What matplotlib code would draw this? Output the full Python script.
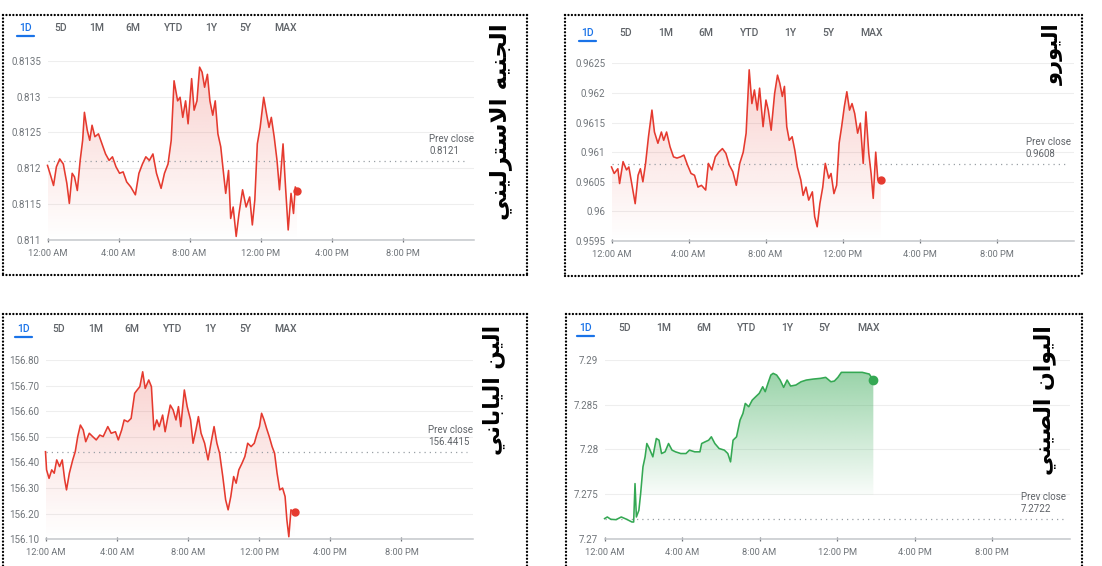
import numpy as np
import matplotlib
matplotlib.use('Agg')
import matplotlib.pyplot as plt
from matplotlib.lines import Line2D
from matplotlib.patches import Polygon
import matplotlib.colors as mcolors

# ---------------- data ----------------
TABS = ['1D', '5D', '1M', '6M', 'YTD', '1Y', '5Y', 'MAX']
TIME_TICKS = [0, 4, 8, 12, 16, 20]
TIME_LABELS = ['12:00 AM', '4:00 AM', '8:00 AM', '12:00 PM', '4:00 PM', '8:00 PM']

gbp_title = 'الجنيه الاسترليني'
gbp_prev = 0.8121
gbp_prev_label = '0.8121'
gbp_yticks = [0.811, 0.8115, 0.812, 0.8125, 0.813, 0.8135]
gbp_ylabels = ['0.811', '0.8115', '0.812', '0.8125', '0.813', '0.8135']
gbp_hours = [0.00, 0.20, 0.34, 0.50, 0.69, 0.89, 1.09, 1.23, 1.39, 1.52, 1.68, 1.84, 1.98, 2.08, 2.24,
             2.38, 2.51, 2.67, 2.87, 3.07, 3.27, 3.47, 3.66, 3.86, 4.06, 4.26, 4.46, 4.69, 4.95, 5.15,
             5.35, 5.54, 5.74, 5.94, 6.14, 6.40, 6.59, 6.79, 6.97, 7.13, 7.33, 7.47, 7.62, 7.78, 7.92,
             8.12, 8.26, 8.42, 8.57, 8.71, 8.85, 9.01, 9.15, 9.31, 9.45, 9.60, 9.76, 9.90, 10.04, 10.20,
             10.32, 10.46, 10.63, 10.79, 10.99, 11.19, 11.39, 11.54, 11.68, 11.82, 11.98, 12.18, 12.34,
             12.48, 12.61, 12.77, 12.93, 13.07, 13.27, 13.41, 13.56, 13.72, 13.86, 13.96, 14.06]
gbp_values = [0.81204, 0.81188, 0.81176, 0.81202, 0.81213, 0.81206, 0.81179, 0.81151, 0.81193, 0.81188,
              0.81169, 0.81211, 0.81239, 0.81278, 0.81253, 0.81239, 0.81260, 0.81244, 0.81248, 0.81234,
              0.81220, 0.81211, 0.81216, 0.81202, 0.81193, 0.81195, 0.81181, 0.81174, 0.81163, 0.81193,
              0.81206, 0.81216, 0.81211, 0.81220, 0.81193, 0.81172, 0.81193, 0.81206, 0.81239, 0.81322,
              0.81294, 0.81299, 0.81271, 0.81294, 0.81262, 0.81325, 0.81281, 0.81294, 0.81341, 0.81334,
              0.81313, 0.81331, 0.81294, 0.81274, 0.81294, 0.81248, 0.81230, 0.81197, 0.81165, 0.81197,
              0.81130, 0.81146, 0.81105, 0.81137, 0.81170, 0.81146, 0.81160, 0.81121, 0.81156, 0.81234,
              0.81257, 0.81299, 0.81276, 0.81257, 0.81271, 0.81244, 0.81211, 0.81170, 0.81234, 0.81174,
              0.81114, 0.81165, 0.81137, 0.81174, 0.81169]

eur_title = 'اليورو'
eur_prev = 0.9608
eur_prev_label = '0.9608'
eur_yticks = [0.9595, 0.96, 0.9605, 0.961, 0.9615, 0.962, 0.9625]
eur_ylabels = ['0.9595', '0.96', '0.9605', '0.961', '0.9615', '0.962', '0.9625']
eur_hours = [0.00, 0.14, 0.33, 0.42, 0.60, 0.78, 0.90, 1.05, 1.23, 1.38, 1.50, 1.63, 1.77, 1.92, 2.10,
             2.23, 2.41, 2.59, 2.71, 2.86, 3.04, 3.22, 3.40, 3.58, 3.76, 3.95, 4.13, 4.31, 4.49, 4.67,
             4.89, 5.03, 5.21, 5.39, 5.57, 5.76, 5.94, 6.12, 6.30, 6.48, 6.66, 6.84, 6.99, 7.15, 7.29,
             7.42, 7.57, 7.69, 7.87, 8.02, 8.14, 8.29, 8.47, 8.62, 8.74, 8.87, 8.98, 9.10, 9.23, 9.38,
             9.52, 9.65, 9.83, 9.95, 10.10, 10.24, 10.43, 10.55, 10.68, 10.82, 10.97, 11.10, 11.28,
             11.40, 11.55, 11.69, 11.82, 11.95, 12.09, 12.22, 12.36, 12.49, 12.63, 12.78, 12.92, 13.07,
             13.21, 13.36, 13.48, 13.59, 13.72, 13.83, 13.99]
eur_values = [0.96075, 0.96064, 0.96072, 0.96047, 0.96084, 0.96070, 0.96075, 0.96047, 0.96013, 0.96061,
              0.96072, 0.96050, 0.96081, 0.96126, 0.96171, 0.96134, 0.96115, 0.96134, 0.96120, 0.96134,
              0.96109, 0.96092, 0.96090, 0.96092, 0.96095, 0.96078, 0.96064, 0.96061, 0.96041, 0.96044,
              0.96036, 0.96081, 0.96070, 0.96092, 0.96100, 0.96106, 0.96098, 0.96078, 0.96067, 0.96044,
              0.96081, 0.96100, 0.96132, 0.96239, 0.96182, 0.96205, 0.96171, 0.96208, 0.96143, 0.96188,
              0.96171, 0.96137, 0.96199, 0.96230, 0.96216, 0.96194, 0.96211, 0.96143, 0.96120, 0.96126,
              0.96103, 0.96075, 0.96053, 0.96027, 0.96041, 0.96019, 0.96033, 0.95991, 0.95974, 0.96013,
              0.96041, 0.96081, 0.96056, 0.96064, 0.96030, 0.96044, 0.96115, 0.96143, 0.96177, 0.96202,
              0.96171, 0.96182, 0.96165, 0.96132, 0.96149, 0.96081, 0.96168, 0.96098, 0.96064, 0.96022,
              0.96100, 0.96053, 0.96053]

jpy_title = 'الين الياباني'
jpy_prev = 156.4415
jpy_prev_label = '156.4415'
jpy_yticks = [156.1, 156.2, 156.3, 156.4, 156.5, 156.6, 156.7, 156.8]
jpy_ylabels = ['156.10', '156.20', '156.30', '156.40', '156.50', '156.60', '156.70', '156.80']
jpy_hours = [0.00, 0.06, 0.20, 0.35, 0.49, 0.63, 0.79, 0.94, 1.08, 1.18, 1.34, 1.53, 1.67, 1.81, 1.96,
             2.12, 2.26, 2.46, 2.65, 2.85, 3.05, 3.24, 3.50, 3.69, 3.93, 4.09, 4.28, 4.42, 4.62, 4.81,
             5.01, 5.15, 5.30, 5.46, 5.60, 5.80, 5.95, 6.09, 6.25, 6.39, 6.58, 6.72, 6.88, 7.01, 7.17,
             7.33, 7.47, 7.60, 7.80, 7.96, 8.15, 8.29, 8.45, 8.59, 8.74, 8.94, 9.13, 9.33, 9.47, 9.63,
             9.78, 9.96, 10.12, 10.26, 10.41, 10.57, 10.71, 10.86, 11.04, 11.20, 11.36, 11.55, 11.73,
             11.89, 12.02, 12.14, 12.28, 12.42, 12.57, 12.73, 12.87, 13.01, 13.16, 13.32, 13.46, 13.56,
             13.67, 13.79, 13.91, 14.01]
jpy_values = [156.442, 156.371, 156.338, 156.371, 156.358, 156.410, 156.384, 156.410, 156.332, 156.293,
              156.358, 156.410, 156.442, 156.501, 156.546, 156.527, 156.481, 156.514, 156.501, 156.488,
              156.507, 156.501, 156.540, 156.514, 156.520, 156.488, 156.527, 156.566, 156.559, 156.572,
              156.670, 156.683, 156.696, 156.754, 156.689, 156.722, 156.696, 156.527, 156.566, 156.540,
              156.585, 156.520, 156.579, 156.624, 156.605, 156.566, 156.618, 156.540, 156.683, 156.618,
              156.566, 156.475, 156.527, 156.579, 156.514, 156.475, 156.410, 156.488, 156.540, 156.475,
              156.436, 156.345, 156.254, 156.215, 156.267, 156.345, 156.319, 156.371, 156.397, 156.423,
              156.475, 156.462, 156.475, 156.514, 156.540, 156.592, 156.566, 156.533, 156.501, 156.462,
              156.436, 156.358, 156.293, 156.300, 156.267, 156.176, 156.110, 156.215, 156.208, 156.208]

cny_title = 'اليوان الصيني'
cny_prev = 7.2722
cny_prev_label = '7.2722'
cny_yticks = [7.27, 7.275, 7.28, 7.285, 7.29]
cny_ylabels = ['7.27', '7.275', '7.28', '7.285', '7.29']
cny_hours = [0.00, 0.14, 0.32, 0.59, 0.86, 1.14, 1.41, 1.50, 1.57, 1.64, 1.77, 1.86, 1.98, 2.09, 2.18,
             2.31, 2.49, 2.67, 2.81, 2.94, 3.12, 3.30, 3.48, 3.66, 3.93, 4.20, 4.38, 4.65, 4.92, 5.01,
             5.19, 5.37, 5.51, 5.69, 5.91, 6.18, 6.36, 6.50, 6.63, 6.81, 6.99, 7.14, 7.26, 7.44, 7.62,
             7.80, 7.98, 8.16, 8.29, 8.43, 8.58, 8.70, 8.88, 9.06, 9.24, 9.42, 9.60, 9.87, 10.14, 10.41,
             10.77, 11.14, 11.41, 11.68, 11.86, 12.04, 12.22, 12.58, 12.94, 13.30, 13.66, 13.87]
cny_values = [7.27228, 7.27246, 7.27220, 7.27216, 7.27246, 7.27220, 7.27190, 7.27190, 7.27619, 7.27246,
              7.27321, 7.27507, 7.27806, 7.27918, 7.28067, 7.28011, 7.27918, 7.28123, 7.28104, 7.27955,
              7.27974, 7.28067, 7.27993, 7.27974, 7.27955, 7.27955, 7.27993, 7.27974, 7.27974, 7.28067,
              7.28086, 7.28104, 7.28142, 7.28067, 7.28011, 7.27993, 7.27955, 7.27862, 7.28104, 7.28142,
              7.28328, 7.28403, 7.28515, 7.28478, 7.28552, 7.28590, 7.28627, 7.28701, 7.28646, 7.28739,
              7.28832, 7.28851, 7.28832, 7.28776, 7.28694, 7.28776, 7.28709, 7.28720, 7.28757, 7.28776,
              7.28787, 7.28795, 7.28806, 7.28757, 7.28765, 7.28806, 7.28862, 7.28862, 7.28862, 7.28862,
              7.28843, 7.28776]

# ---------------- styling / layout ----------------
W, H = 1102, 566
RED = '#e53a2f'
GREEN = '#34a853'
GREY_TXT = '#70757a'
TAB_TXT = '#5f6368'
BLUE = '#1a73e8'

plt.rcParams['font.family'] = ['Roboto', 'DejaVu Sans']

fig = plt.figure(figsize=(W / 100, H / 100), dpi=100)
fig.patch.set_facecolor('white')


def fx(x):
    return x / W


def fy(y):
    return 1 - y / H


# ---- minimal Arabic shaping (presentation forms) so the text renders joined ----
FORMS = {
    '\u0627': ('\uFE8D', '\uFE8E', None, None),
    '\u0628': ('\uFE8F', '\uFE90', '\uFE91', '\uFE92'),
    '\u062A': ('\uFE95', '\uFE96', '\uFE97', '\uFE98'),
    '\u062C': ('\uFE9D', '\uFE9E', '\uFE9F', '\uFEA0'),
    '\u0631': ('\uFEAD', '\uFEAE', None, None),
    '\u0633': ('\uFEB1', '\uFEB2', '\uFEB3', '\uFEB4'),
    '\u0635': ('\uFEB9', '\uFEBA', '\uFEBB', '\uFEBC'),
    '\u0644': ('\uFEDD', '\uFEDE', '\uFEDF', '\uFEE0'),
    '\u0646': ('\uFEE5', '\uFEE6', '\uFEE7', '\uFEE8'),
    '\u0647': ('\uFEE9', '\uFEEA', '\uFEEB', '\uFEEC'),
    '\u0648': ('\uFEED', '\uFEEE', None, None),
    '\u064A': ('\uFEF1', '\uFEF2', '\uFEF3', '\uFEF4'),
}
LAM, ALEF = '\u0644', '\u0627'


def shape_arabic(text):
    out_words = []
    for word in text.split(' '):
        units = []
        i = 0
        while i < len(word):
            if word[i] == LAM and i + 1 < len(word) and word[i + 1] == ALEF:
                units.append(('LA',))
                i += 2
            else:
                units.append((word[i],))
                i += 1

        def joins_left(u):
            if u[0] == 'LA':
                return False
            f = FORMS.get(u[0])
            return f is not None and f[2] is not None

        res = []
        for k, u in enumerate(units):
            prev_j = k > 0 and joins_left(units[k - 1])
            next_j = k + 1 < len(units) and joins_left(u)
            if u[0] == 'LA':
                res.append('\uFEFC' if prev_j else '\uFEFB')
                continue
            f = FORMS.get(u[0])
            if f is None:
                res.append(u[0])
                continue
            if prev_j and next_j:
                res.append(f[3])
            elif prev_j:
                res.append(f[1])
            elif next_j:
                res.append(f[2])
            else:
                res.append(f[0])
        out_words.append(''.join(res)[::-1])
    return ' '.join(out_words[::-1])


def dotted_box(x0, y0, x1, y1, sides='tlrb'):
    kw = dict(color='black', lw=1.7, linestyle=(0, (0.01, 1.45)), dash_capstyle='round',
              transform=fig.transFigure, clip_on=False)
    if 't' in sides:
        fig.add_artist(Line2D([fx(x0), fx(x1)], [fy(y0), fy(y0)], **kw))
    if 'b' in sides:
        fig.add_artist(Line2D([fx(x0), fx(x1)], [fy(y1), fy(y1)], **kw))
    if 'l' in sides:
        fig.add_artist(Line2D([fx(x0), fx(x0)], [fy(y0), fy(y1)], **kw))
    if 'r' in sides:
        fig.add_artist(Line2D([fx(x1), fx(x1)], [fy(y0), fy(y1)], **kw))


def gradient_fill(ax, x, y, color, a_top, a_bot, y_top, y_base):
    rgb = mcolors.to_rgb(color)
    n = 256
    grad = np.zeros((n, 1, 4))
    grad[:, 0, :3] = rgb
    grad[:, 0, 3] = np.linspace(a_top, a_bot, n)
    im = ax.imshow(grad, aspect='auto', extent=[x[0], x[-1], y_base, y_top],
                   origin='upper', zorder=1, interpolation='bilinear')
    verts = np.vstack([[x[0], y_base], np.column_stack([x, y]), [x[-1], y_base]])
    clip = Polygon(verts, closed=True, facecolor='none', edgecolor='none', transform=ax.transData)
    ax.add_patch(clip)
    im.set_clip_path(clip)


def panel(box, axes_px, tab_x, tab_y, title, title_xc, title_top, title_len,
          hours, values, color, yticks, ylabels, prev, prev_label, fill_cfg):
    dotted_box(*box)
    # tabs
    for k, (lab, tx) in enumerate(zip(TABS, tab_x)):
        fig.text(fx(tx), fy(tab_y), lab, ha='center', va='center', fontsize=7.5,
                 color=BLUE if k == 0 else TAB_TXT, fontweight='medium')
    fig.add_artist(Line2D([fx(tab_x[0] - 8.5), fx(tab_x[0] + 8.5)], [fy(tab_y + 8), fy(tab_y + 8)],
                          color=BLUE, lw=1.6, solid_capstyle='round', transform=fig.transFigure))
    # axes
    l, t, r, b = axes_px
    ax = fig.add_axes([fx(l), fy(b), (r - l) / W, (b - t) / H])
    ax.set_facecolor('none')
    x = np.asarray(hours)
    y = np.asarray(values)
    ymin, ymax = yticks[0], yticks[-1]
    if fill_cfg is None:
        gradient_fill(ax, x, y, color, 0.24, 0.0, ymax, ymin)
    else:
        a_top, a_bot, base = fill_cfg
        gradient_fill(ax, x, y, color, a_top, a_bot, max(values), base)
    ax.plot(x, y, color=color, lw=1.15, zorder=3, clip_on=False, solid_joinstyle='round')
    ax.plot([x[-1]], [y[-1]], 'o', color=color, ms=5 if fill_cfg is None else 6, zorder=4, clip_on=False)
    # prev close
    ax.plot([0, 23.7], [prev, prev], color='#9aa0a6', lw=0.9, linestyle=(0, (1, 3.2)), zorder=2)
    ax.annotate('Prev close\n' + prev_label, xy=(21.5, prev), xytext=(0, 3.5), textcoords='offset points',
                ha='left', va='bottom', fontsize=7, color='#5f6368', linespacing=1.3)
    ax.set_xlim(0, 24)
    ax.set_ylim(ymin, ymax)
    ax.set_yticks(yticks)
    ax.set_yticklabels(ylabels)
    ax.set_xticks(TIME_TICKS)
    ax.set_xticklabels(TIME_LABELS)
    for s in ['left', 'right', 'top']:
        ax.spines[s].set_visible(False)
    ax.spines['bottom'].set_color('#c4c7cb')
    ax.spines['bottom'].set_linewidth(1.1)
    ax.tick_params(axis='y', length=0, pad=4.5, labelsize=7, labelcolor=GREY_TXT)
    ax.tick_params(axis='x', length=3, width=0.9, color='#6f7378', pad=5, labelsize=6.7,
                   labelcolor=GREY_TXT, direction='inout')
    ax.yaxis.grid(True, color='#eeeeee', lw=0.8, zorder=0)
    ax.set_axisbelow(True)
    # title (vertical Arabic)
    txt = fig.text(fx(title_xc), fy(title_top), shape_arabic(title), rotation=90, ha='center', va='top',
                   fontsize=20, fontweight='bold', family=['DejaVu Sans'], color='black')
    return txt, title_len


titles = []
titles.append(panel((3.3, 15.3, 526.7, 275.3), (47.5, 60.7, 473.5, 240.0),
                    [25, 61, 97, 133, 174, 211.5, 245.5, 286], 28.3,
                    gbp_title, 500, 23, 197, gbp_hours, gbp_values, RED,
                    gbp_yticks, gbp_ylabels, gbp_prev, gbp_prev_label, None))
titles.append(panel((565, 15.3, 1081.7, 275.7), (611.5, 63.3, 1073.7, 241.0),
                    [587.3, 626, 665.7, 705.7, 749.6, 790.4, 828, 871.6], 32.7,
                    eur_title, 1053, 23, 62, eur_hours, eur_values, RED,
                    eur_yticks, eur_ylabels, eur_prev, eur_prev_label, None))
titles.append(panel((3.3, 314.3, 526.7, 600), (45.5, 360.0, 472.7, 539.3),
                    [23.3, 58.3, 95.7, 132.3, 172.4, 210.5, 245.5, 286], 329,
                    jpy_title, 494, 325, 130, jpy_hours, jpy_values, RED,
                    jpy_yticks, jpy_ylabels, jpy_prev, jpy_prev_label, None))
titles.append(panel((565.5, 314.0, 1081.7, 600), (604.6, 360.0, 1069.6, 539.0),
                    [585.7, 624.2, 663.3, 703.4, 746.4, 787.3, 824.6, 868.7], 328.3,
                    cny_title, 1045, 325, 150, cny_hours, cny_values, GREEN,
                    cny_yticks, cny_ylabels, cny_prev, cny_prev_label, (0.5, 0.03, 7.2749)))

# fit the vertical titles to their length in the reference
fig.canvas.draw()
for txt, target in titles:
    bb = txt.get_window_extent()
    txt.set_fontsize(txt.get_fontsize() * target / bb.height)

fig.savefig('out.png', dpi=100, facecolor='white')
